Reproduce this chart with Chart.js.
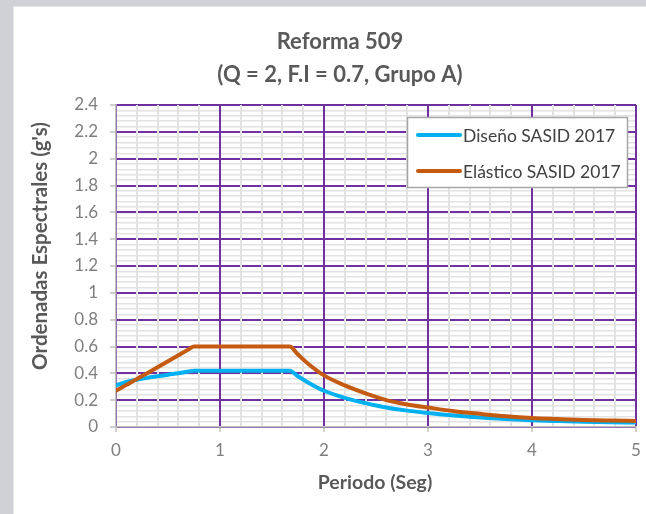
<!DOCTYPE html>
<html>
<head>
<meta charset="utf-8">
<script src="https://cdn.jsdelivr.net/npm/chart.js@4.4.1/dist/chart.umd.min.js"></script>
<style>
  html, body { margin: 0; padding: 0; background: #cfd1d6; overflow: hidden; }
  canvas { position: absolute; left: 0; top: 0; }
</style>
</head>
<body>
<canvas id="c" width="646" height="514"></canvas>
<script>
// Spectral periods (s)
const periods = [0, 0.1, 0.2, 0.3, 0.4, 0.5, 0.6, 0.7, 0.75, 1.0, 1.25, 1.5, 1.67,
                 1.75, 1.85, 2.0, 2.2, 2.4, 2.6, 2.8, 3.0, 3.25, 3.5, 3.75, 4.0, 4.25, 4.5, 4.75, 5.0];
// Design spectrum (g)
const disenoSASID = [0.31, 0.335, 0.352, 0.366, 0.378, 0.39, 0.40, 0.414, 0.42, 0.42, 0.42, 0.42, 0.42,
                     0.378, 0.33, 0.27, 0.217, 0.178, 0.145, 0.122, 0.104, 0.085, 0.071, 0.059, 0.05, 0.044, 0.039, 0.035, 0.033];
// Elastic spectrum (g)
const elasticoSASID = [0.27, 0.314, 0.358, 0.40, 0.445, 0.49, 0.535, 0.58, 0.60, 0.60, 0.60, 0.60, 0.60,
                       0.54, 0.47, 0.385, 0.31, 0.25, 0.2, 0.168, 0.145, 0.118, 0.098, 0.08, 0.067, 0.059, 0.052, 0.048, 0.045];

const seriesNames = ['Diseño SASID 2017', 'Elástico SASID 2017'];
const seriesColors = ['#00b0f0', '#c55a11'];
const xTicks = [0, 1, 2, 3, 4, 5];
const yTicks = [0, 0.2, 0.4, 0.6, 0.8, 1, 1.2, 1.4, 1.6, 1.8, 2, 2.2, 2.4];
const titleLines = ['Reforma 509', '(Q = 2, F.I = 0.7, Grupo A)'];
const xTitle = 'Periodo (Seg)';
const yTitle = "Ordenadas Espectrales (g's)";

const FONT = 'Lato, "Open Sans", sans-serif';

const toPoints = arr => periods.map((t, i) => ({ x: t, y: arr[i] }));

// Card background, titles and the boxed legend
const decor = {
  id: 'decor',
  beforeDraw(chart) {
    const ctx = chart.ctx;
    ctx.save();
    ctx.fillStyle = '#cfd1d6';
    ctx.fillRect(0, 0, chart.width, chart.height);
    ctx.fillStyle = '#e3e5e8';
    ctx.fillRect(13, 6, chart.width - 13, chart.height - 6);
    ctx.fillStyle = '#ffffff';
    ctx.fillRect(14, 7, chart.width - 14, chart.height - 7);
    ctx.restore();
  },
  afterDraw(chart) {
    const ctx = chart.ctx;
    ctx.save();
    ctx.fillStyle = '#595959';
    ctx.textAlign = 'center';
    ctx.textBaseline = 'middle';
    ctx.font = 'bold 22px ' + FONT;
    ctx.fillText(titleLines[0], 340, 42);
    ctx.fillText(titleLines[1], 340, 75);

    ctx.font = 'bold 19.5px ' + FONT;
    ctx.fillText(xTitle, 375, 483);
    ctx.save();
    ctx.translate(40, 246);
    ctx.rotate(-Math.PI / 2);
    ctx.font = 'bold 20.5px ' + FONT;
    ctx.fillText(yTitle, 0, 0);
    ctx.restore();

    // legend
    const bx = 407.5, by = 117.5, bw = 220, bh = 70;
    ctx.fillStyle = '#ffffff';
    ctx.fillRect(bx, by, bw, bh);
    ctx.strokeStyle = '#a6a6a6';
    ctx.lineWidth = 1.5;
    ctx.strokeRect(bx, by, bw, bh);
    ctx.textAlign = 'left';
    ctx.font = '17.5px ' + FONT;
    chart.data.datasets.forEach((ds, i) => {
      const y = 135 + i * 36;
      ctx.strokeStyle = ds.borderColor;
      ctx.lineWidth = 4;
      ctx.lineCap = 'round';
      ctx.beginPath();
      ctx.moveTo(418, y);
      ctx.lineTo(460, y);
      ctx.stroke();
      ctx.fillStyle = '#404040';
      ctx.fillText(ds.label, 463, y + 1);
    });
    ctx.restore();
  }
};

const minorGrid = '#e2e2e2';
const majorGrid = '#7030a0';
const axisGray = '#bfbfbf';

// keep the plot box fixed: no extra side padding for edge labels
function fixHorizontal(h) {
  return s => { s.height = h; s.paddingLeft = 0; s.paddingRight = 0; };
}

new Chart(document.getElementById('c'), {
  type: 'line',
  data: {
    datasets: [
      { label: seriesNames[0], data: toPoints(disenoSASID), borderColor: seriesColors[0],
        backgroundColor: seriesColors[0], xAxisID: 'x', yAxisID: 'y', order: 2 },
      { label: seriesNames[1], data: toPoints(elasticoSASID), borderColor: seriesColors[1],
        backgroundColor: seriesColors[1], xAxisID: 'x', yAxisID: 'y', order: 1 }
    ]
  },
  options: {
    responsive: false,
    animation: false,
    devicePixelRatio: 1,
    events: [],
    layout: { padding: { left: 0, top: 105, right: 10, bottom: 0 } },
    plugins: { legend: { display: false }, tooltip: { enabled: false }, title: { display: false } },
    elements: {
      point: { radius: 0 },
      line: { borderWidth: 4, cubicInterpolationMode: 'monotone', borderCapStyle: 'round', borderJoinStyle: 'round', fill: false }
    },
    scales: {
      yMinor: {
        axis: 'y', type: 'linear', position: 'left', min: 0, max: 2.4,
        ticks: { display: false, stepSize: 0.04 },
        grid: { color: minorGrid, lineWidth: 1.5, drawTicks: false, z: -4 },
        border: { display: false },
        afterFit(s) { s.width = 0; s.paddingTop = 0; s.paddingBottom = 0; }
      },
      y: {
        axis: 'y', type: 'linear', position: 'left', min: 0, max: 2.4,
        afterBuildTicks(s) { s.ticks = yTicks.map(v => ({ value: v })); },
        ticks: {
          autoSkip: false, padding: 12, color: '#7f7f7f',
          font: { family: FONT, size: 17 },
          callback: v => String(Math.round(v * 10) / 10)
        },
        grid: { color: majorGrid, lineWidth: 2, tickColor: axisGray, tickLength: 6, tickWidth: 1.5, z: -3 },
        border: { color: axisGray, width: 1.5 },
        afterFit(s) { s.width = 116; }
      },
      xMinor: {
        axis: 'x', type: 'linear', position: 'bottom', min: 0, max: 5,
        ticks: { display: false, stepSize: 0.2 },
        grid: { color: minorGrid, lineWidth: 2, drawTicks: false, z: -2 },
        border: { display: false },
        afterFit: fixHorizontal(0)
      },
      x: {
        axis: 'x', type: 'linear', position: 'bottom', min: 0, max: 5,
        afterBuildTicks(s) { s.ticks = xTicks.map(v => ({ value: v })); },
        ticks: {
          autoSkip: false, padding: 8, color: '#7f7f7f', maxRotation: 0,
          font: { family: FONT, size: 17 },
          callback: v => String(v)
        },
        grid: { color: majorGrid, lineWidth: 2, tickColor: axisGray, tickLength: 5, tickWidth: 1.5, z: -1 },
        border: { color: axisGray, width: 1.5 },
        afterFit: fixHorizontal(87)
      }
    }
  },
  plugins: [decor]
});
</script>
</body>
</html>
